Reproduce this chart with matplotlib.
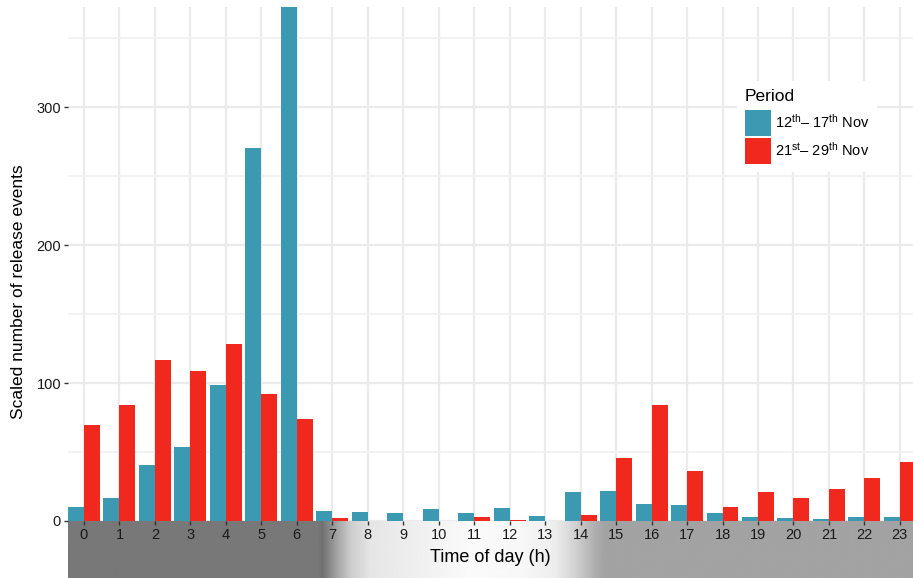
import numpy as np
import matplotlib
matplotlib.use('Agg')
import matplotlib.pyplot as plt
from matplotlib.patches import Patch

plt.rcParams['font.family'] = ['Liberation Sans', 'DejaVu Sans']
plt.rcParams['mathtext.fontset'] = 'custom'
plt.rcParams['mathtext.rm'] = 'Liberation Sans'
plt.rcParams['mathtext.it'] = 'Liberation Sans:italic'

# data
hours = np.arange(24)
nov_12_17 = [10.4, 16.9, 40.7, 53.7, 98.8, 270, 375, 7.3, 6.5, 5.8, 8.7, 5.8,
             9.4, 3.6, 21, 21.6, 12.1, 11.4, 5.6, 2.7, 1.9, 1.2, 2.7, 2.7]
nov_21_29 = [69.7, 84.2, 117, 108.9, 128.5, 92.2, 74.1, 2.2, 0, 0, 0, 2.9,
             0.7, 0, 4.3, 45.5, 84, 36, 9.9, 21, 16.5, 23, 31, 42.6]
labels = [r'12$^{\rm th}$– 17$^{\rm th}$ Nov', r'21$^{\rm st}$– 29$^{\rm th}$ Nov']
colors = ['#3B9AB2', '#F0281E']

W, H = 913, 578
fig = plt.figure(figsize=(W / 100, H / 100), dpi=100)

x0, x1 = -0.45, 23.37
left = 68 / W
band_h = 57 / H

# daylight band under the axis
band = fig.add_axes([left, 0, 1 - left, band_h])
px = np.array([68, 318, 322, 335, 350, 370, 420, 470, 520, 555, 575, 595, 605, 913])
gv = np.array([0.47, 0.47, 0.44, 0.62, 0.80, 0.90, 0.94, 0.98, 0.97, 0.93, 0.82, 0.68, 0.64, 0.64])
hx = np.linspace(x0, x1, 900)
grad = np.interp(84 + 35.48 * hx, px, gv)
band.imshow(grad[np.newaxis, :], cmap='gray', vmin=0, vmax=1, aspect='auto',
            extent=(x0, x1, 0, 1), interpolation='bilinear')
band.set_xlim(x0, x1)
band.axis('off')

ax = fig.add_axes([left, band_h, 1 - left, (521 - 7) / H])
ax.set_axisbelow(True)
ax.bar(hours - 0.225, nov_12_17, width=0.45, color=colors[0], zorder=2)
ax.bar(hours + 0.225, nov_21_29, width=0.45, color=colors[1], zorder=2)

ax.set_xlim(x0, x1)
ax.set_ylim(0, 372.5)
ax.set_xticks(hours)
ax.set_yticks([0, 100, 200, 300])
ax.set_yticks([50, 150, 250, 350], minor=True)
ax.grid(True, which='major', color='#ebebeb', linewidth=1.6)
ax.grid(True, which='minor', axis='y', color='#f0f0f0', linewidth=1.2)
ax.tick_params(axis='both', which='major', length=3, width=1, color='#333333',
               labelsize=10.5, labelcolor='#1a1a1a', pad=2)
ax.tick_params(axis='y', which='minor', length=0)
for s in ax.spines.values():
    s.set_visible(False)
ax.set_facecolor('none')

ax.set_xlabel('Time of day (h)', fontsize=13, labelpad=5, color='black')
fig.text(19 / W, 1 - 292 / H, 'Scaled number of release events', fontsize=12.5,
         rotation=90, ha='center', va='center', color='black')

handles = [Patch(facecolor=c, edgecolor='none') for c in colors]
leg = ax.legend(handles, labels, title='Period', loc='upper left',
                bbox_to_anchor=(730 / W, 1 - 74 / H), bbox_transform=fig.transFigure,
                fontsize=10.5, title_fontsize=12.5, frameon=True, fancybox=False,
                handlelength=1.8, handleheight=2.4, labelspacing=0.1,
                handletextpad=0.3, borderpad=0.5, alignment='left')
leg._legend_box.sep = 4.7
leg.get_frame().set_facecolor('white')
leg.get_frame().set_edgecolor('none')
leg.get_frame().set_alpha(1)

fig.savefig('out.png', dpi=100)
